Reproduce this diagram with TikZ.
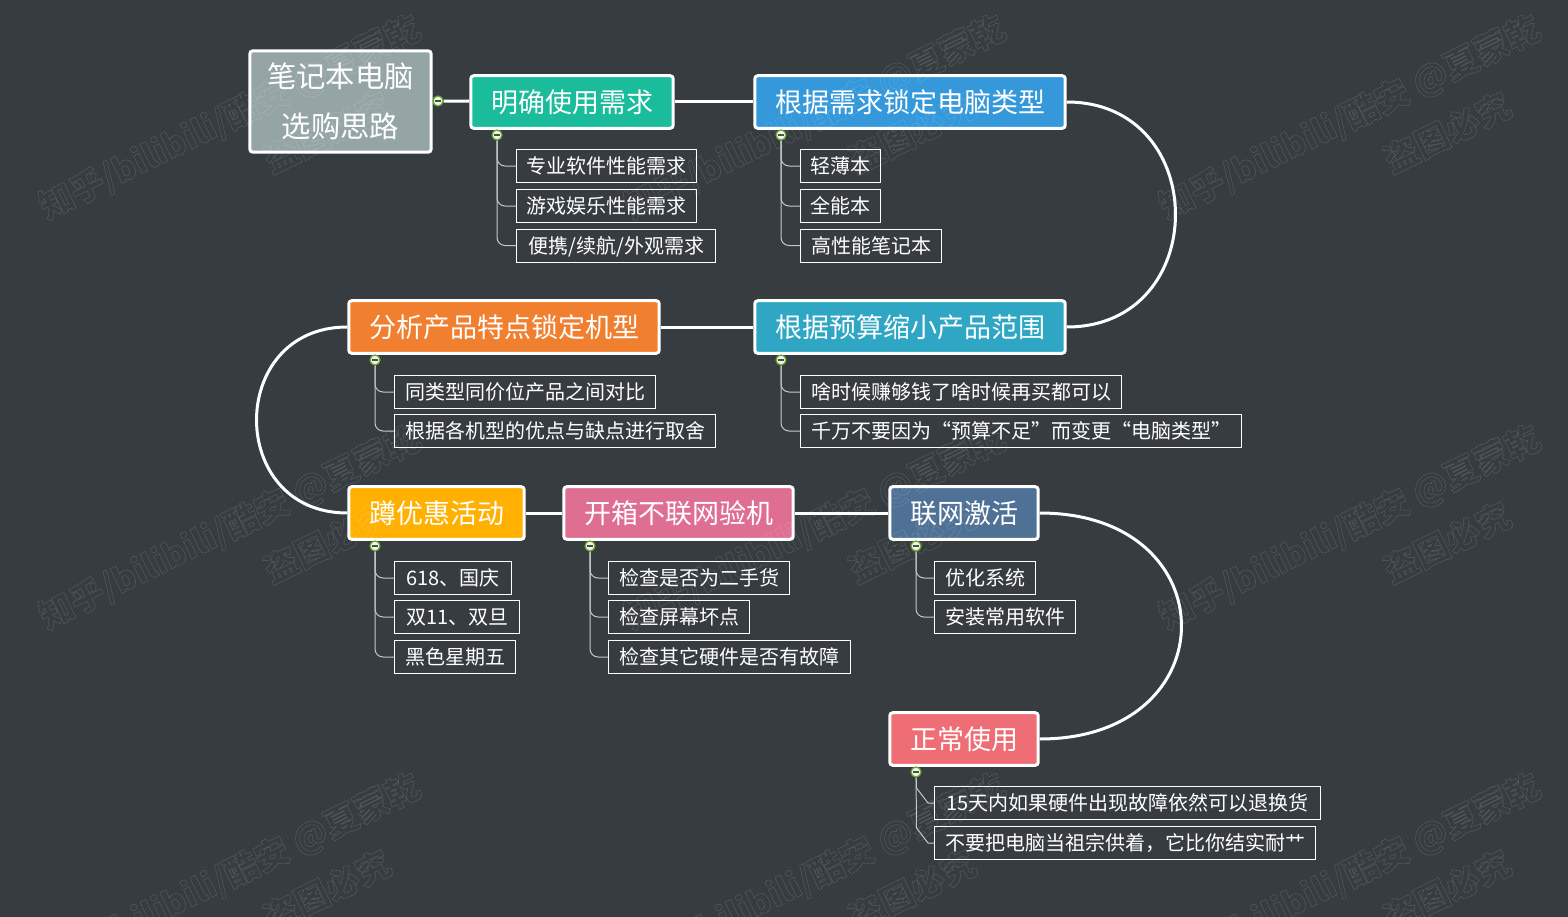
\documentclass[tikz,border=0pt]{standalone}
\usepackage{fontspec}
\usepackage{xcolor}
\usetikzlibrary{patterns}
\setmainfont{Noto Sans CJK SC}

\definecolor{bgcol}{HTML}{3A3F44}
\definecolor{hatchcol}{HTML}{353A3F}
\definecolor{rootcol}{HTML}{95A5A6}
\definecolor{needcol}{HTML}{1ABC9C}
\definecolor{typecol}{HTML}{3498DB}
\definecolor{budgetcol}{HTML}{2EA6C4}
\definecolor{modelcol}{HTML}{F07F2F}
\definecolor{dealcol}{HTML}{FFB000}
\definecolor{unboxcol}{HTML}{DE6F93}
\definecolor{onlinecol}{HTML}{4F7196}
\definecolor{usecol}{HTML}{EF6E75}
\definecolor{btncol}{HTML}{6AA82E}

\newcommand{\wmoutline}[1]{\special{pdf:code 1 Tr 0.5 w}#1\special{pdf:code 0 Tr}}

\tikzset{
  rootbox/.style={draw=white,line width=2.25pt,rounded corners=2.25pt,fill=rootcol,text=white,
    align=center,minimum width=136pt,minimum height=76pt,inner sep=0pt,
    font=\fontsize{22pt}{37.5pt}\selectfont},
  topic/.style={draw=white,line width=2.25pt,rounded corners=2.25pt,text=white,
    minimum height=39.4pt,inner sep=0pt,text height=18.6pt,text depth=2.4pt,
    font=\fontsize{20.25pt}{24pt}\selectfont},
  topicw/.style={minimum width=#1*0.75pt+1.1pt},
  subbox/.style={draw=white,line width=0.75pt,text=white,anchor=west,
    minimum height=24.75pt,inner sep=0pt,text height=13.3pt,text depth=1.8pt,
    font=\fontsize{15pt}{18pt}\selectfont},
  subw/.style={minimum width=#1*0.75pt+0.3pt},
  btn/.style={circle,draw=btncol,line width=0.9pt,fill=white!88!btncol,
    minimum size=7.5pt,inner sep=0pt,
    path picture={\draw[black!70,line width=0.9pt]
      ([xshift=-2.6pt]path picture bounding box.center) --
      ([xshift=2.6pt]path picture bounding box.center);}},
  mainline/.style={draw=white,line width=2.25pt},
  subline/.style={draw=white!78!black,line width=0.75pt,rounded corners=6pt},
  kinkline/.style={draw=white!78!black,line width=0.75pt},
  mark1/.style={font=\fontsize{25.5pt}{30pt}\selectfont\bfseries,rotate=26,text=white},
  mark2/.style={font=\fontsize{25.5pt}{30pt}\selectfont\bfseries,rotate=26,text=white},
}

\begin{document}
\begin{tikzpicture}[x=0.75pt,y=-0.75pt]
    \useasboundingbox (0,0) rectangle (1568,917);
    \fill[bgcol] (0,0) rectangle (1568,917);
    \fill[pattern=crosshatch,pattern color=hatchcol] (0,0) rectangle (1568,917);

    % the eight steps
    \node[rootbox] (root) at (340.5,101.5) {笔记本电脑\\选购思路};
    \node[topic,topicw=201,fill=needcol] (need) at (572,102) {明确使用需求};
    \node[topic,topicw=309,fill=typecol] (type) at (910,102) {根据需求锁定电脑类型};
    \node[topic,topicw=309,fill=budgetcol] (budget) at (910,327) {根据预算缩小产品范围};
    \node[topic,topicw=309,fill=modelcol] (model) at (504,327) {分析产品特点锁定机型};
    \node[topic,topicw=174,fill=dealcol] (deal) at (436.5,513) {蹲优惠活动};
    \node[topic,topicw=228,fill=unboxcol] (unbox) at (678.5,513) {开箱不联网验机};
    \node[topic,topicw=147,fill=onlinecol] (online) at (964,513) {联网激活};
    \node[topic,topicw=147,fill=usecol] (use) at (964,739) {正常使用};

    % leaves
    \node[subbox,subw=180] (needA) at (516,166) {专业软件性能需求};
    \node[subbox,subw=180] (needB) at (516,206) {游戏娱乐性能需求};
    \node[subbox,subw=199] (needC) at (516,245.5) {便携/续航/外观需求};
    \node[subbox,subw=80] (typeA) at (800,166) {轻薄本};
    \node[subbox,subw=80] (typeB) at (800,206) {全能本};
    \node[subbox,subw=141] (typeC) at (800,245.5) {高性能笔记本};
    \node[subbox,subw=321] (budgetA) at (800,392) {啥时候赚够钱了啥时候再买都可以};
    \node[subbox,subw=441] (budgetB) at (800,431) {千万不要因为“预算不足”而变更“电脑类型”};
    \node[subbox,subw=261] (modelA) at (394,392) {同类型同价位产品之间对比};
    \node[subbox,subw=321] (modelB) at (394,431) {根据各机型的优点与缺点进行取舍};
    \node[subbox,subw=117] (dealA) at (394,578) {618、国庆};
    \node[subbox,subw=125] (dealB) at (394,617) {双11、双旦};
    \node[subbox,subw=121] (dealC) at (394,657) {黑色星期五};
    \node[subbox,subw=181] (unboxA) at (608,578) {检查是否为二手货};
    \node[subbox,subw=141] (unboxB) at (608,617) {检查屏幕坏点};
    \node[subbox,subw=242] (unboxC) at (608,657) {检查其它硬件是否有故障};
    \node[subbox,subw=101] (onlineA) at (934,578) {优化系统};
    \node[subbox,subw=141] (onlineB) at (934,617) {安装常用软件};
    \node[subbox,subw=386] (useA) at (934,803) {15天内如果硬件出现故障依然可以退换货};
    \node[subbox,subw=381] (useB) at (934,843) {不要把电脑当祖宗供着，它比你结实耐艹};

    % collapse buttons
    \node[btn] (btnRoot) at (438,101) {};
    \node[btn] (btnNeed) at (497,135) {};
    \node[btn] (btnType) at (781,135) {};
    \node[btn] (btnBudget) at (781,360) {};
    \node[btn] (btnModel) at (375,360) {};
    \node[btn] (btnDeal) at (375,546) {};
    \node[btn] (btnUnbox) at (590,546) {};
    \node[btn] (btnOnline) at (916,546) {};
    \node[btn] (btnUse) at (916,772) {};

    % main route
    \draw[mainline] (btnRoot) -- (need);
    \draw[mainline] (need) -- (type);
    \draw[mainline] (type.east) .. controls +(145,0) and +(145,0) .. (budget.east);
    \draw[mainline] (budget) -- (model);
    \draw[mainline] (model.west) .. controls +(-121,0) and +(-121,0) .. (deal.west);
    \draw[mainline] (deal) -- (unbox);
    \draw[mainline] (unbox) -- (online);
    \draw[mainline] (online.east) .. controls +(189,0) and +(189,0) .. (use.east);

    % branches
    \draw[subline] (btnNeed) |- (needA);
    \draw[subline] (btnNeed) |- (needB);
    \draw[subline] (btnNeed) |- (needC);
    \draw[subline] (btnType) |- (typeA);
    \draw[subline] (btnType) |- (typeB);
    \draw[subline] (btnType) |- (typeC);
    \draw[subline] (btnBudget) |- (budgetA);
    \draw[subline] (btnBudget) |- (budgetB);
    \draw[subline] (btnModel) |- (modelA);
    \draw[subline] (btnModel) |- (modelB);
    \draw[subline] (btnDeal) |- (dealA);
    \draw[subline] (btnDeal) |- (dealB);
    \draw[subline] (btnDeal) |- (dealC);
    \draw[subline] (btnUnbox) |- (unboxA);
    \draw[subline] (btnUnbox) |- (unboxB);
    \draw[subline] (btnUnbox) |- (unboxC);
    \draw[subline] (btnOnline) |- (onlineA);
    \draw[subline] (btnOnline) |- (onlineB);
    \coordinate (kinkA) at (916.5,788);
    \coordinate (kinkB) at (928,803);
    \coordinate (kinkC) at (916.5,828);
    \coordinate (kinkD) at (928,843);
    \draw[kinkline] (btnUse) -- (kinkA) -- (kinkB) -- (useA);
    \draw[kinkline] (btnUse) -- (kinkC) -- (kinkD) -- (useB);

    % watermarks
    \begin{scope}[opacity=0.12]
      \node[mark1] (wmA) at (230,118) {\wmoutline{知乎/bilibili/酷安 @夏蒙乾}};
      \node[mark2] (wmAb) at (327,132) {\wmoutline{盗图必究}};
      \node[mark1] (wmB) at (815,118) {\wmoutline{知乎/bilibili/酷安 @夏蒙乾}};
      \node[mark2] (wmBb) at (912,132) {\wmoutline{盗图必究}};
      \node[mark1] (wmC) at (1350,118) {\wmoutline{知乎/bilibili/酷安 @夏蒙乾}};
      \node[mark2] (wmCb) at (1447,132) {\wmoutline{盗图必究}};
      \node[mark1] (wmD) at (230,528) {\wmoutline{知乎/bilibili/酷安 @夏蒙乾}};
      \node[mark2] (wmDb) at (327,542) {\wmoutline{盗图必究}};
      \node[mark1] (wmE) at (815,528) {\wmoutline{知乎/bilibili/酷安 @夏蒙乾}};
      \node[mark2] (wmEb) at (912,542) {\wmoutline{盗图必究}};
      \node[mark1] (wmF) at (1350,528) {\wmoutline{知乎/bilibili/酷安 @夏蒙乾}};
      \node[mark2] (wmFb) at (1447,542) {\wmoutline{盗图必究}};
      \node[mark1] (wmG) at (230,876) {\wmoutline{知乎/bilibili/酷安 @夏蒙乾}};
      \node[mark2] (wmGb) at (327,890) {\wmoutline{盗图必究}};
      \node[mark1] (wmH) at (815,876) {\wmoutline{知乎/bilibili/酷安 @夏蒙乾}};
      \node[mark2] (wmHb) at (912,890) {\wmoutline{盗图必究}};
      \node[mark1] (wmI) at (1350,876) {\wmoutline{知乎/bilibili/酷安 @夏蒙乾}};
      \node[mark2] (wmIb) at (1447,890) {\wmoutline{盗图必究}};
    \end{scope}
\end{tikzpicture}
\end{document}
